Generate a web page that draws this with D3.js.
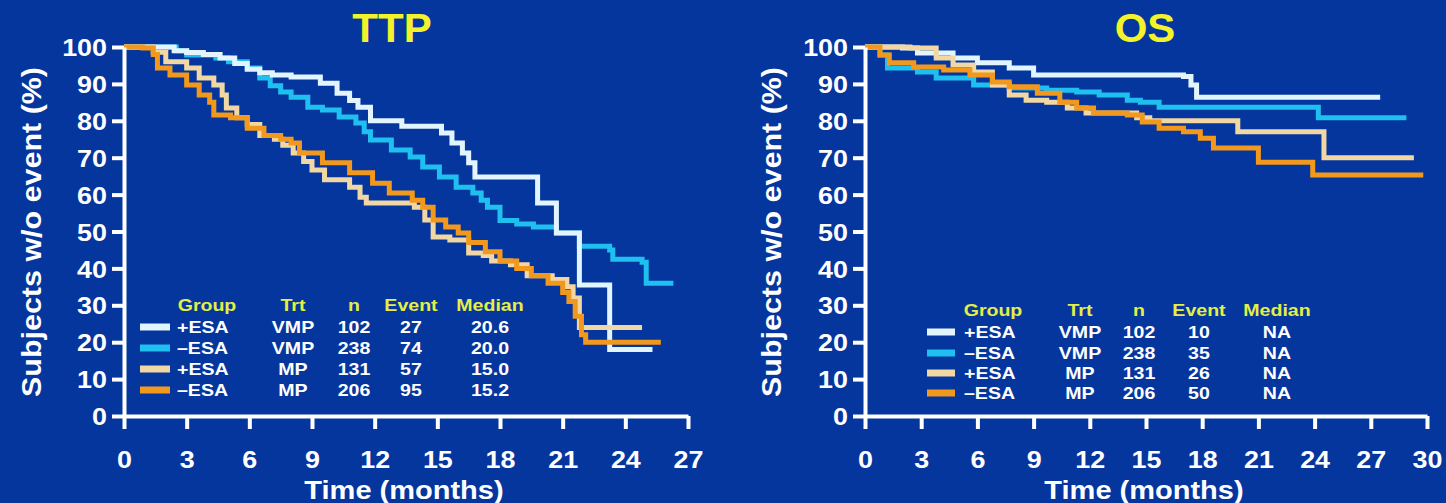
<!DOCTYPE html>
<html><head><meta charset="utf-8">
<script src="https://cdn.jsdelivr.net/npm/d3@7"></script>
<style>
html,body{margin:0;padding:0;background:#05369e;}
svg{display:block;}
text{font-family:"Liberation Sans",Arial,sans-serif;font-weight:bold;}
</style></head>
<body>
<svg id="c" width="1446" height="503"></svg>
<script>
// ---------- DATA ----------
const groupLabels = ["+ESA", "–ESA", "+ESA", "–ESA"];
const trtLabels = ["VMP", "VMP", "MP", "MP"];
const nValues = [102, 238, 131, 206];
const ttpEvents = [27, 74, 57, 95];
const ttpMedians = ["20.6", "20.0", "15.0", "15.2"];
const osEvents = [10, 35, 26, 50];
const osMedians = ["NA", "NA", "NA", "NA"];
const legendHeaders = ["Group", "Trt", "n", "Event", "Median"];

const yTickValues = [0, 10, 20, 30, 40, 50, 60, 70, 80, 90, 100];
const ttpXTicks = [0, 3, 6, 9, 12, 15, 18, 21, 24, 27];
const osXTicks = [0, 3, 6, 9, 12, 15, 18, 21, 24, 27, 30];

// TTP curves: [month, % without event]
const ttpVmpPlus = [[0,100],[1.9,100],[2.4,99],[3,98.5],[3.8,98],[4.6,97],[5.3,95.5],[5.9,94],[6.5,93],[7.1,92.4],[8,91.9],[9.4,90.2],[10.2,87.5],[10.8,85.5],[11.2,83.7],[11.8,80],[13.3,78.5],[15.2,76.7],[15.7,74],[16.2,71.3],[16.5,68.6],[16.8,64.8],[19.8,57.7],[20.7,49.6],[21.8,35.5],[23.25,18],[25.3,18]];
const ttpVmpMinus = [[0,100],[2,100],[2.5,99],[3,97.8],[4.4,97],[5,96],[5.9,94.3],[6.5,91.6],[7,89.5],[7.5,87.8],[8,86.4],[8.8,83.7],[9.5,82.9],[10.3,81],[11.1,79.4],[11.5,77],[11.8,74.8],[12.8,72.1],[13.7,70.2],[14.3,67.5],[15.1,64.8],[15.9,62],[16.7,60.4],[17.1,58.5],[17.4,56.6],[18,53],[18.8,52],[19.6,51.2],[20.7,49.6],[21.8,46],[23.25,45],[23.4,42.5],[24.8,41.7],[25,36],[26.3,36]];
const ttpMpPlus = [[0,100],[1,100],[1.4,98.6],[2,96],[3,94.3],[3.6,91.6],[4.3,89.7],[4.7,87],[4.9,83.5],[5.4,80.8],[5.9,79],[6.5,76],[7.2,75],[7.6,73.4],[8.1,71.3],[8.6,69],[9,66.7],[9.6,64],[10.8,62],[11.3,59.3],[11.6,57.7],[13.9,56.6],[14.4,53.1],[14.8,48.5],[15.6,47.7],[16.5,44.2],[17.2,43.5],[17.6,42],[18.5,41],[19.3,38],[20.5,37],[21.2,35],[21.5,32],[21.8,24],[24.8,24]];
const ttpMpMinus = [[0,100],[0.9,99.7],[1.4,98],[1.6,94.3],[2.2,92.4],[3,89.7],[3.6,87],[4.1,85],[4.3,81.6],[5.1,80.8],[5.9,78],[6.7,76],[7.5,75],[8,74],[8.4,71.3],[9.5,68.6],[10.8,65.9],[11.9,63.1],[12.7,60.4],[13.8,58.5],[14.3,56.6],[14.8,53.1],[15.4,51.2],[16,49.6],[16.5,47],[17.3,44.5],[18,42],[18.8,40],[19.5,38],[20.3,36],[21,33.5],[21.3,31],[21.6,27],[21.9,22],[22.1,20],[25.7,20]];

// OS curves
const osVmpPlus = [[0,100],[2,99.7],[2.8,98.4],[4.7,97],[6,95.7],[7.7,94.3],[9,92.4],[17,92],[17.4,89.7],[17.7,86.4],[27.5,86.4]];
const osVmpMinus = [[0,100],[0.8,97.8],[1.2,94.3],[2.8,93.2],[3.8,91.6],[5.8,89.7],[7.7,88.9],[9.7,88.3],[11.3,87.8],[12.5,87],[14,85.6],[14.7,85],[15.7,83.7],[24.2,80.8],[28.9,80.8]];
const osMpPlus = [[0,100],[2.4,99.7],[3.8,97],[4.7,95.1],[5.8,93.2],[6.8,89.7],[7.7,87],[8.6,85.6],[9.7,85],[10.8,83.5],[11.8,82.1],[14.5,80.8],[15.2,80],[19.9,77],[24.5,70],[29.3,70]];
const osMpMinus = [[0,100],[0.8,97.8],[1.3,95.7],[2.6,94.6],[4.2,93.8],[5.6,92.4],[6.8,90.5],[7.7,89.2],[9.2,87.5],[10.4,85],[11.3,83.5],[12.2,82.1],[14,81.6],[14.8,79.7],[15.7,78],[17,77],[17.9,75.3],[18.6,72.6],[21,68.8],[23.9,65.3],[29.8,65.3]];

const seriesColors = ["#e2f5ff", "#1fbff0", "#f1d7a3", "#f2981c"];

// ---------- DRAW ----------
const svg = d3.select("#c");
svg.append("rect").attr("width",1446).attr("height",503).attr("fill","#05369e");

function stretch(sel, k) {
  sel.each(function(){
    const w = this.getComputedTextLength();
    d3.select(this).attr("textLength", w * k).attr("lengthAdjust", "spacingAndGlyphs");
  });
}

function panel(cfg) {
  const x = d3.scaleLinear().domain(cfg.xDomain).range(cfg.xRange);
  const y = d3.scaleLinear().domain([0, 100]).range([416, 47]);
  const g = svg.append("g");

  const line = d3.line().x(d => x(d[0])).y(d => y(d[1])).curve(d3.curveStepAfter);
  const order = [1, 0, 2, 3];
  order.forEach(i => {
    g.append("path").datum(cfg.series[i]).attr("d", line)
      .attr("fill", "none").attr("stroke", seriesColors[i])
      .attr("stroke-width", 5).attr("stroke-linejoin", "miter");
  });

  const ya = g.append("g").attr("transform", `translate(${cfg.xRange[0]},0)`)
    .call(d3.axisLeft(y).tickValues(yTickValues).tickSize(12).tickSizeOuter(0).tickPadding(5));
  const xa = g.append("g").attr("transform", `translate(0,416)`)
    .call(d3.axisBottom(x).tickValues(cfg.xTicks).tickSize(13).tickSizeOuter(0).tickPadding(22));
  [ya, xa].forEach(a => {
    a.select(".domain").attr("stroke", "#fff").attr("stroke-width", 4);
    a.selectAll(".tick line").attr("stroke", "#fff").attr("stroke-width", 4);
    a.selectAll(".tick text").attr("fill", "#fff").attr("font-size", 24)
      .attr("font-family", "Liberation Sans, Arial, sans-serif").attr("font-weight", "bold");
  });
  ya.selectAll(".tick text").attr("dy", "0.36em");
  stretch(ya.selectAll(".tick text"), 1.12);
  stretch(xa.selectAll(".tick text"), 1.12);

  const yt = g.append("text").attr("transform", `translate(${cfg.yTitleX},232) rotate(-90)`)
    .attr("text-anchor", "middle").attr("dy", "0.36em").attr("fill", "#fff").attr("font-size", 27)
    .text("Subjects w/o event (%)");
  yt.attr("textLength", 330).attr("lengthAdjust", "spacingAndGlyphs");
  const xt = g.append("text").attr("x", (cfg.xRange[0] + cfg.xRange[1]) / 2 - 2).attr("y", 499)
    .attr("text-anchor", "middle").attr("fill", "#fff").attr("font-size", 25).text("Time (months)");
  stretch(xt, 1.16);

  const tt = g.append("text").attr("x", cfg.titleX).attr("y", 42).attr("text-anchor", "middle")
    .attr("fill", "#f4f22a").attr("font-size", 40).text(cfg.title);
  stretch(tt, 1.05);

  const L = cfg.legend;
  const hdr = g.selectAll(".hdr").data(legendHeaders).join("text")
    .attr("x", (d, i) => L.cols[i]).attr("y", L.rows[0]).attr("dy", "0.36em")
    .attr("text-anchor", "middle").attr("fill", "#e4ef45").attr("font-size", 17).text(d => d);
  stretch(hdr, 1.15);
  for (let i = 0; i < 4; i++) {
    const ry = L.rows[i + 1];
    g.append("line").attr("x1", L.swatch[0]).attr("x2", L.swatch[1]).attr("y1", ry).attr("y2", ry)
      .attr("stroke", seriesColors[i]).attr("stroke-width", 7);
    const cells = [groupLabels[i], trtLabels[i], nValues[i], cfg.events[i], cfg.medians[i]];
    const t = g.selectAll(null).data(cells).join("text")
      .attr("x", (d, j) => j === 0 ? L.groupX : L.cols[j]).attr("y", ry).attr("dy", "0.36em")
      .attr("text-anchor", (d, j) => j === 0 ? "start" : "middle")
      .attr("fill", "#fff").attr("font-size", 17).text(d => d);
    stretch(t, 1.15);
  }
}

panel({
  xDomain: [0, 27], xRange: [124, 688], xTicks: ttpXTicks,
  series: [ttpVmpPlus, ttpVmpMinus, ttpMpPlus, ttpMpMinus],
  title: "TTP", titleX: 392, yTitleX: 31,
  events: ttpEvents, medians: ttpMedians,
  legend: { cols: [207, 293, 354, 411, 490], rows: [305, 327, 348, 369, 390], swatch: [140, 170], groupX: 177 }
});
panel({
  xDomain: [0, 30], xRange: [865, 1427], xTicks: osXTicks,
  series: [osVmpPlus, osVmpMinus, osMpPlus, osMpMinus],
  title: "OS", titleX: 1145, yTitleX: 771,
  events: osEvents, medians: osMedians,
  legend: { cols: [993, 1080, 1139, 1199, 1277], rows: [310, 332, 353, 373, 393], swatch: [927, 955], groupX: 964 }
});
</script>
</body></html>
